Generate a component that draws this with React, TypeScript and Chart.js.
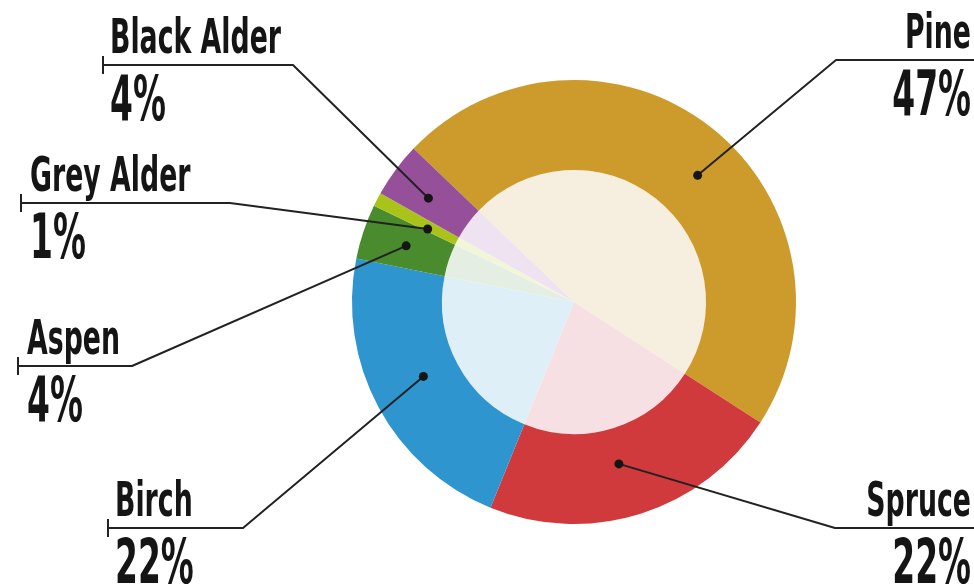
import React, { useEffect, useRef } from 'react';
import { Chart, registerables } from 'chart.js';

Chart.register(...registerables);

// ---- data ----
const species = ['Pine', 'Spruce', 'Birch', 'Aspen', 'Grey Alder', 'Black Alder'];
const shares = [47, 22, 22, 4, 1, 4];
const shareLabels = shares.map((v) => v + '%');

// ---- styles ----
const ringColors = ['#CD9B2B', '#D03A3D', '#2E95CF', '#4A8B2E', '#A9C31B', '#96509A'];
const coreColors = ['#F6EFDF', '#F7E0E3', '#DFEFF8', '#E4EEE2', '#F1F6D9', '#EFE2F1'];

// annotation layout (callout lines / text anchors)
const calloutLayout = [
  { side: 'right', lineY: 60, elbowX: 836, edgeX: 974, textX: 971, angleShift: 6, radial: 0.5 },
  { side: 'right', lineY: 528, elbowX: 835, edgeX: 974, textX: 971, angleShift: 2, radial: 0.4 },
  { side: 'left', lineY: 528, elbowX: 243, edgeX: 108, textX: 115, angleShift: 2, radial: 0.4 },
  { side: 'left', lineY: 366, elbowX: 132, edgeX: 18, textX: 27, angleShift: 0, radial: 0.5 },
  { side: 'left', lineY: 203, elbowX: 230, edgeX: 21, textX: 30, angleShift: -1, radial: 0.35 },
  { side: 'left', lineY: 65, elbowX: 293, edgeX: 103, textX: 110, angleShift: -1, radial: 0.52 },
];

const FONT_FAMILY = '"Liberation Sans Narrow", "DejaVu Sans Condensed", "Liberation Sans", sans-serif';
const NAME_FONT = 'bold 48px ' + FONT_FAMILY;
const PCT_FONT = 'bold 62px ' + FONT_FAMILY;
const NAME_SCALE = 0.62;
const PCT_SCALE = 0.59;

function drawScaledText(ctx: CanvasRenderingContext2D, text: string, x: number, y: number, font: string, align: CanvasTextAlign, sx: number) {
  ctx.save();
  ctx.font = font;
  ctx.translate(x, y);
  ctx.scale(sx, 1);
  ctx.textAlign = align;
  ctx.textBaseline = 'alphabetic';
  ctx.fillStyle = '#151515';
  ctx.fillText(text, 0, 0);
  ctx.restore();
}

const calloutPlugin = {
  id: 'callouts',
  afterDraw(chart: any) {
    const ctx: CanvasRenderingContext2D = chart.ctx;
    const meta = chart.getDatasetMeta(0);
    meta.data.forEach((arc: any, i: number) => {
      const lay = calloutLayout[i];
      if (!lay) return;
      const p = arc.getProps(['x', 'y', 'startAngle', 'endAngle', 'innerRadius', 'outerRadius'], true);
      const a = (p.startAngle + p.endAngle) / 2 + (lay.angleShift * Math.PI) / 180;
      const r = p.innerRadius + (p.outerRadius - p.innerRadius) * lay.radial;
      const dx = p.x + r * Math.cos(a);
      const dy = p.y + r * Math.sin(a);

      ctx.save();
      ctx.strokeStyle = '#222';
      ctx.lineWidth = 2;
      ctx.lineJoin = 'round';
      ctx.beginPath();
      ctx.moveTo(dx, dy);
      ctx.lineTo(lay.elbowX, lay.lineY);
      ctx.lineTo(lay.edgeX, lay.lineY);
      ctx.stroke();
      if (lay.side === 'left') {
        ctx.beginPath();
        ctx.moveTo(lay.edgeX, lay.lineY - 9);
        ctx.lineTo(lay.edgeX, lay.lineY + 9);
        ctx.stroke();
      }
      ctx.fillStyle = '#151515';
      ctx.beginPath();
      ctx.arc(dx, dy, 4.5, 0, Math.PI * 2);
      ctx.fill();
      ctx.restore();

      const align: CanvasTextAlign = lay.side === 'left' ? 'left' : 'right';
      drawScaledText(ctx, species[i], lay.textX, lay.lineY - 12, NAME_FONT, align, NAME_SCALE);
      drawScaledText(ctx, shareLabels[i], lay.textX, lay.lineY + 55, PCT_FONT, align, PCT_SCALE);
    });
  },
};

export default function App() {
  const canvasRef = useRef<HTMLCanvasElement | null>(null);

  useEffect(() => {
    if (!canvasRef.current) return;
    const chart = new Chart(canvasRef.current, {
      type: 'pie',
      data: {
        labels: species,
        datasets: [
          {
            data: shares,
            backgroundColor: ringColors,
            borderWidth: 0,
            hoverOffset: 0,
            offset: 0,
            weight: 90,
          } as any,
          {
            data: shares,
            backgroundColor: coreColors,
            borderWidth: 0,
            hoverOffset: 0,
            offset: 0,
            weight: 132,
          } as any,
        ],
      },
      options: {
        responsive: false,
        animation: false,
        events: [],
        rotation: -46.3,
        layout: { padding: { left: 352, right: 178, top: 80, bottom: 63 } },
        plugins: {
          legend: { display: false },
          tooltip: { enabled: false },
        },
      } as any,
      plugins: [calloutPlugin],
    });
    return () => chart.destroy();
  }, []);

  return (
    <div style={{ position: 'fixed', left: 0, top: 0, width: 974, height: 587, background: '#fff' }}>
      <canvas ref={canvasRef} width={974} height={587} style={{ display: 'block' }} />
    </div>
  );
}
